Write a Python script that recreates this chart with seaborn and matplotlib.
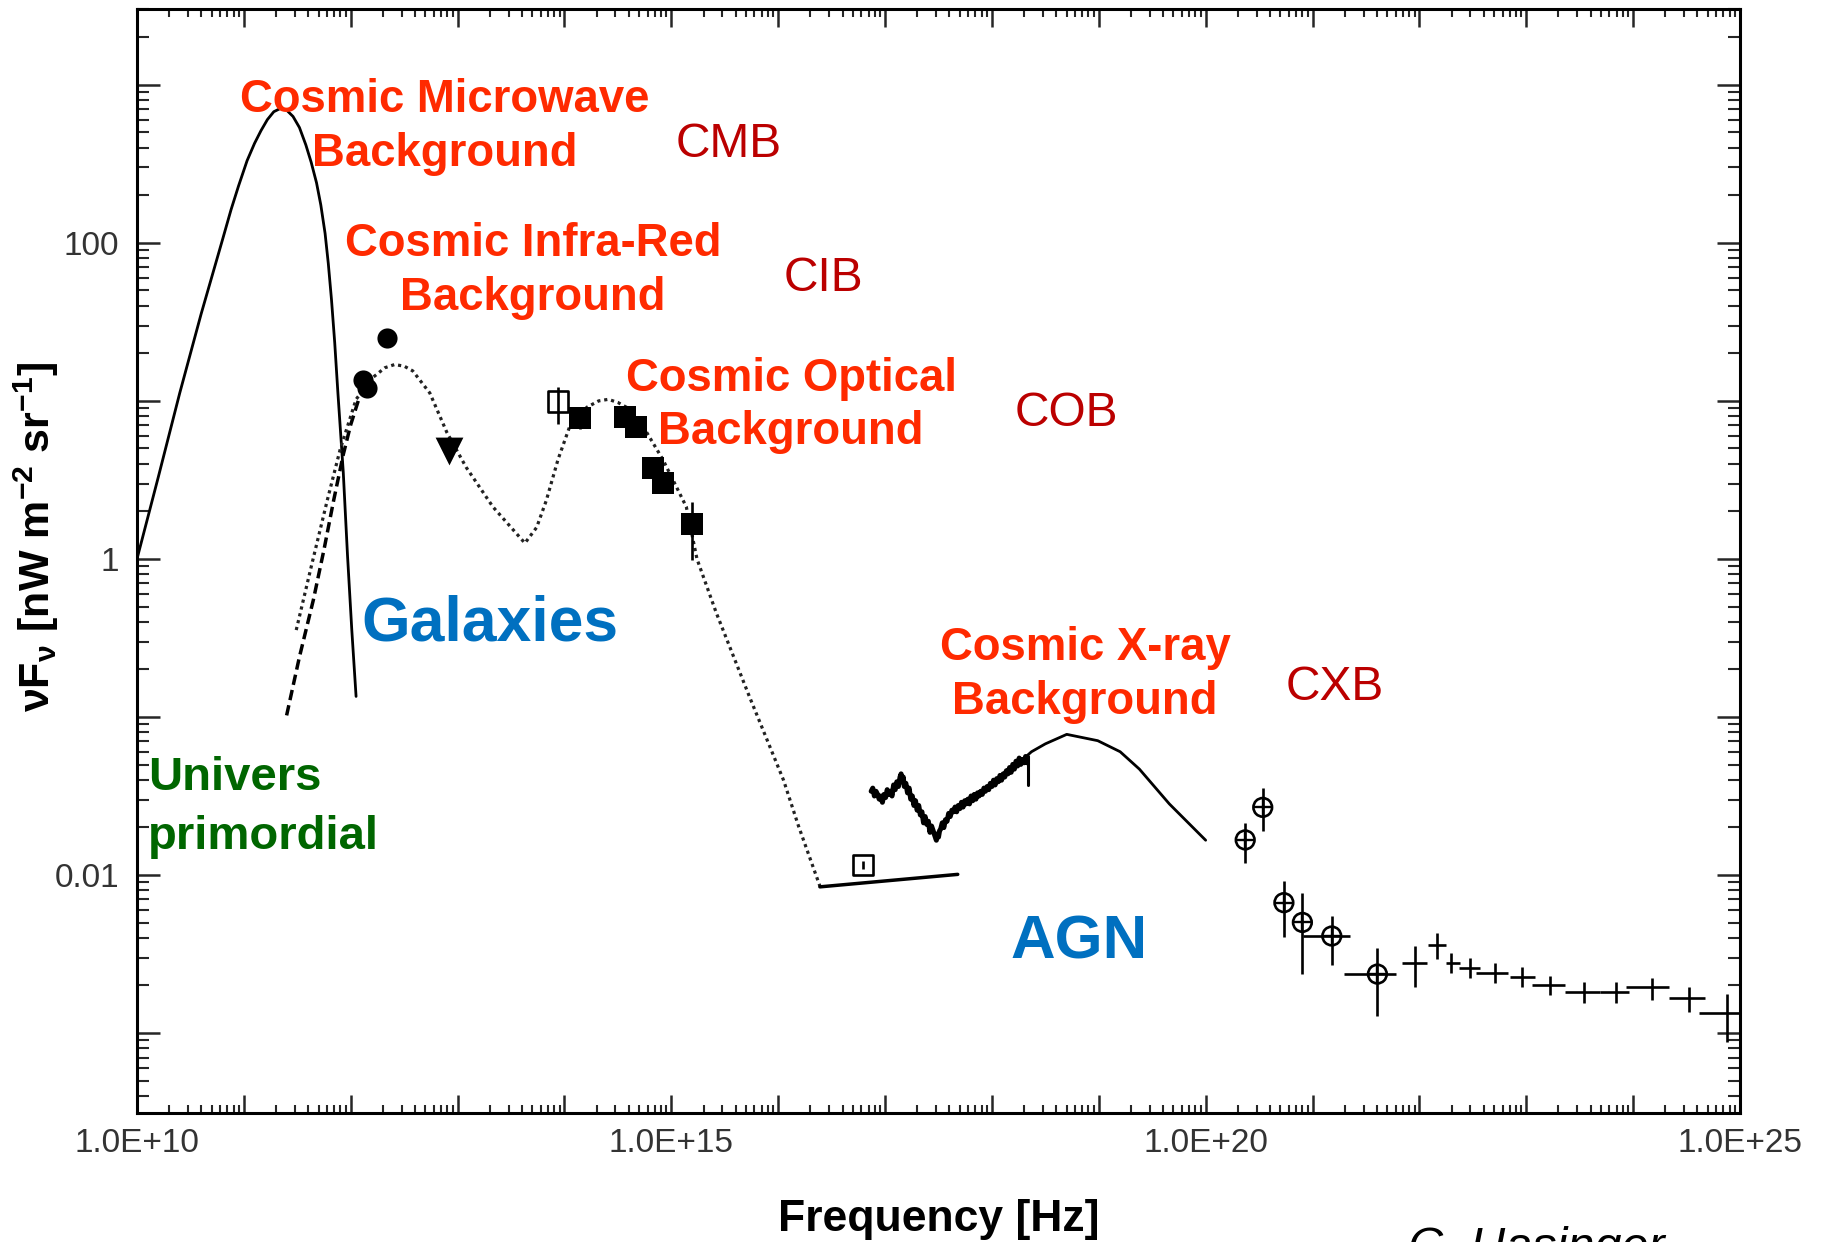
import numpy as np
import pandas as pd
import matplotlib
matplotlib.use("Agg")
import matplotlib.pyplot as plt
import seaborn as sns
from matplotlib.ticker import FixedLocator, FuncFormatter, LogLocator, NullFormatter

# ---------------- data : log10(nu / Hz) , log10(nuFnu / nW m^-2 sr^-1) ----------------
cmb_lognu = [10.00, 10.20, 10.40, 10.60, 10.80, 10.88, 10.95, 11.03, 11.10, 11.16,
             11.22, 11.28, 11.34, 11.40, 11.46, 11.52, 11.58, 11.63, 11.68, 11.72,
             11.76, 11.79, 11.82, 11.85, 11.88, 11.93, 11.97, 12.01, 12.05]
cmb_logflux = [0.00, 0.52, 1.05, 1.55, 2.02, 2.21, 2.36, 2.52, 2.63, 2.71,
               2.78, 2.83, 2.85, 2.84, 2.80, 2.73, 2.62, 2.51, 2.38, 2.24,
               2.06, 1.87, 1.64, 1.37, 1.05, 0.55, 0.02, -0.45, -0.87]

prim_lognu = [11.40, 11.52, 11.65, 11.75, 11.84, 11.93, 12.00, 12.07]
prim_logflux = [-0.99, -0.62, -0.26, 0.06, 0.37, 0.66, 0.85, 1.00]

gal_lognu = [11.49, 11.63, 11.78, 11.90, 12.05, 12.21, 12.32, 12.41, 12.50, 12.58,
             12.74, 12.90, 13.08, 13.33, 13.63, 13.74, 13.83, 13.94, 14.05, 14.21,
             14.32, 14.41, 14.50, 14.58, 14.77, 14.92, 15.14, 15.24, 15.42, 15.73,
             16.05, 16.19, 16.39]
gal_logflux = [-0.45, -0.05, 0.37, 0.69, 1.01, 1.15, 1.21, 1.23, 1.22, 1.19,
               1.05, 0.80, 0.58, 0.33, 0.10, 0.20, 0.37, 0.63, 0.84, 0.96,
               1.00, 1.01, 0.99, 0.96, 0.80, 0.63, 0.33, 0.00, -0.34, -0.87,
               -1.40, -1.69, -2.07]

uv_lognu = [16.39, 17.68]
uv_logflux = [-2.075, -1.996]

xray_lognu = [16.87, 16.885, 16.90, 16.915, 16.93, 16.945, 16.96, 16.975, 16.99, 17.005,
              17.02, 17.035, 17.05, 17.065, 17.08, 17.095, 17.11, 17.125, 17.14, 17.15,
              17.16, 17.17, 17.18, 17.195, 17.21, 17.225, 17.24, 17.255, 17.27, 17.285,
              17.30, 17.315, 17.33, 17.345, 17.36, 17.375, 17.39, 17.405, 17.42, 17.435,
              17.45, 17.465, 17.48, 17.49, 17.50, 17.51, 17.52, 17.535, 17.55, 17.565,
              17.58, 17.595, 17.61, 17.625, 17.64, 17.655, 17.67, 17.685, 17.70, 17.715,
              17.73, 17.745, 17.76, 17.775, 17.79, 17.805, 17.82, 17.835, 17.85, 17.865,
              17.88, 17.895, 17.91, 17.925, 17.94, 17.955, 17.97, 17.985, 18.00, 18.015,
              18.03, 18.045, 18.06, 18.075, 18.09, 18.105, 18.12, 18.135, 18.15, 18.165,
              18.18, 18.195, 18.21, 18.225, 18.24, 18.255, 18.27, 18.285, 18.30, 18.315, 18.33]
xray_logflux = [-1.47, -1.45, -1.50, -1.47, -1.49, -1.52, -1.50, -1.54, -1.49, -1.51,
                -1.46, -1.49, -1.47, -1.50, -1.43, -1.46, -1.41, -1.44, -1.38, -1.36,
                -1.41, -1.38, -1.44, -1.42, -1.48, -1.45, -1.52, -1.50, -1.56, -1.53,
                -1.59, -1.56, -1.62, -1.60, -1.67, -1.63, -1.68, -1.66, -1.73, -1.69,
                -1.72, -1.75, -1.78, -1.74, -1.76, -1.72, -1.71, -1.67, -1.70, -1.65,
                -1.66, -1.61, -1.63, -1.59, -1.60, -1.57, -1.60, -1.56, -1.58, -1.54,
                -1.57, -1.53, -1.55, -1.52, -1.55, -1.50, -1.53, -1.49, -1.52, -1.48,
                -1.50, -1.47, -1.49, -1.45, -1.47, -1.44, -1.46, -1.42, -1.44, -1.40,
                -1.43, -1.39, -1.41, -1.37, -1.40, -1.36, -1.38, -1.34, -1.36, -1.32,
                -1.35, -1.30, -1.33, -1.28, -1.31, -1.26, -1.30, -1.27, -1.29, -1.25, -1.29]
xray_end_lognu = [18.34, 18.34]
xray_end_logflux = [-1.25, -1.43]

cxb_lognu = [18.32, 18.37, 18.50, 18.70, 18.99, 19.20, 19.38, 19.66, 20.00]
cxb_logflux = [-1.25, -1.22, -1.17, -1.11, -1.15, -1.22, -1.33, -1.55, -1.78]

cib_dot_lognu = [12.117, 12.155, 12.342]
cib_dot_logflux = [1.133, 1.080, 1.397]

cib_tri_lognu = [12.92]
cib_tri_logflux = [0.68]

open_sq_lognu = [13.94, 16.79]
open_sq_logflux = [0.996, -1.937]
open_sq_lo = [0.854, -1.965]
open_sq_hi = [1.09, -1.91]

cob_lognu = [14.15, 14.565, 14.674, 14.824, 14.923, 15.189]
cob_logflux = [0.89, 0.90, 0.837, 0.574, 0.479, 0.222]
cob_lo = [0.82, 0.90, 0.837, 0.574, 0.479, -0.006]
cob_hi = [0.95, 0.90, 0.837, 0.574, 0.479, 0.363]

gam_lognu = [20.37, 20.534, 20.732, 20.905, 21.18, 21.607]
gam_logflux = [-1.778, -1.572, -2.175, -2.30, -2.386, -2.627]
gam_ylo = [-1.927, -1.72, -2.39, -2.627, -2.57, -2.89]
gam_yhi = [-1.673, -1.451, -2.036, -2.116, -2.26, -2.46]
gam_xlo = [20.37, 20.534, 20.732, 20.905, 20.91, 21.29]
gam_xhi = [20.37, 20.534, 20.732, 20.905, 21.35, 21.78]

egret_lognu = [21.962, 22.169, 22.30, 22.47, 22.71, 22.96, 23.225, 23.536, 23.84, 24.176, 24.52, 24.88]
egret_logflux = [-2.555, -2.443, -2.555, -2.59, -2.618, -2.648, -2.696, -2.739, -2.739, -2.711, -2.78, -2.875]
egret_xlo = [21.84, 22.08, 22.25, 22.37, 22.53, 22.85, 23.05, 23.36, 23.69, 23.93, 24.34, 24.62]
egret_xhi = [22.07, 22.25, 22.38, 22.57, 22.83, 23.08, 23.36, 23.69, 23.96, 24.34, 24.67, 25.0]
egret_ylo = [-2.71, -2.534, -2.618, -2.654, -2.686, -2.711, -2.76, -2.808, -2.808, -2.79, -2.87, -3.055]
egret_yhi = [-2.45, -2.365, -2.496, -2.527, -2.555, -2.584, -2.639, -2.675, -2.675, -2.654, -2.707, -2.75]

xtick_exps = list(range(10, 26))
xlabel_exps = [10, 15, 20, 25]
xtick_labels = ["1.0E+10", "1.0E+15", "1.0E+20", "1.0E+25"]
ytick_exps = list(range(-3, 4))
ylabel_vals = [100, 1, 0.01]
ytick_labels = ["100", "1", "0.01"]

# ---------------- style ----------------
sns.set_style("ticks")
plt.rcParams["font.family"] = ["Liberation Sans", "DejaVu Sans"]
plt.rcParams["mathtext.fontset"] = "custom"
plt.rcParams["mathtext.rm"] = "Liberation Sans"
plt.rcParams["mathtext.bf"] = "Liberation Sans:bold"
plt.rcParams["mathtext.it"] = "Liberation Sans:italic"

W, H = 1830, 1242
fig = plt.figure(figsize=(W / 100, H / 100), dpi=100)
ax = fig.add_axes([137 / W, 1 - 1113 / H, (1740 - 137) / W, (1113 - 9) / H])
ax.set_xscale("log")
ax.set_yscale("log")


def p(a):
    return 10.0 ** np.asarray(a, dtype=float)


K = "black"
sns.lineplot(x=p(cmb_lognu), y=p(cmb_logflux), ax=ax, color=K, lw=2.0,
             sort=False, estimator=None)
sns.lineplot(x=p(prim_lognu), y=p(prim_logflux), ax=ax, color=K, lw=2.5,
             linestyle=(0, (3.0, 1.5)), sort=False, estimator=None)
sns.lineplot(x=p(gal_lognu), y=p(gal_logflux), ax=ax, color="#222222", lw=2.3,
             linestyle=(0, (1.0, 1.2)), sort=False, estimator=None)
sns.lineplot(x=p(uv_lognu), y=p(uv_logflux), ax=ax, color=K, lw=2.5,
             sort=False, estimator=None)
sns.lineplot(x=p(xray_lognu), y=p(xray_logflux), ax=ax, color=K, lw=3.6,
             sort=False, estimator=None)
sns.lineplot(x=p(xray_end_lognu), y=p(xray_end_logflux), ax=ax, color=K, lw=2.2,
             sort=False, estimator=None)
sns.lineplot(x=p(cxb_lognu), y=p(cxb_logflux), ax=ax, color=K, lw=2.0,
             sort=False, estimator=None)

# markers
sns.scatterplot(x=p(cib_dot_lognu), y=p(cib_dot_logflux), ax=ax, marker="o",
                s=210, color=K, linewidth=0, zorder=4)
sns.scatterplot(x=p(cib_tri_lognu), y=p(cib_tri_logflux), ax=ax, marker="v",
                s=400, color=K, linewidth=0, zorder=4)

# COB filled squares with error bars
cy = p(cob_logflux)
ax.errorbar(p(cob_lognu), cy, yerr=[cy - p(cob_lo), p(cob_hi) - cy], fmt="none",
            ecolor=K, elinewidth=1.9, capsize=0, zorder=3)
sns.scatterplot(x=p(cob_lognu), y=cy, ax=ax, marker="s", s=260, color=K,
                linewidth=0, zorder=4)

# open squares
oy = p(open_sq_logflux)
ax.errorbar(p(open_sq_lognu), oy, yerr=[oy - p(open_sq_lo), p(open_sq_hi) - oy],
            fmt="none", ecolor=K, elinewidth=1.9, capsize=0, zorder=3)
sns.scatterplot(x=p(open_sq_lognu), y=oy, ax=ax, marker="s", s=210, color=K, zorder=4)
coll = ax.collections[-1]
coll.set_facecolor("none")
coll.set_edgecolor(K)
coll.set_linewidth(1.9)

# gamma-ray circled points
gx, gy = p(gam_lognu), p(gam_logflux)
ax.errorbar(gx, gy, yerr=[gy - p(gam_ylo), p(gam_yhi) - gy],
            xerr=[gx - p(gam_xlo), p(gam_xhi) - gx], fmt="none", ecolor=K,
            elinewidth=1.9, capsize=0, zorder=3)
sns.scatterplot(x=gx, y=gy, ax=ax, marker="o", s=180, color=K, zorder=4)
coll = ax.collections[-1]
coll.set_facecolor("none")
coll.set_edgecolor(K)
coll.set_linewidth(1.9)
sns.scatterplot(x=gx, y=gy, ax=ax, marker="+", s=180, color=K, linewidth=1.7, zorder=4)

# EGRET crosses
ex, ey = p(egret_lognu), p(egret_logflux)
ax.errorbar(ex, ey, yerr=[ey - p(egret_ylo), p(egret_yhi) - ey],
            xerr=[ex - p(egret_xlo), p(egret_xhi) - ex], fmt="none", ecolor=K,
            elinewidth=1.9, capsize=0, zorder=3)

# ---------------- axes ----------------
ax.set_xlim(1e10, 1e25)
ax.set_ylim(10 ** -3.506, 10 ** 3.48)

xlab = dict(zip(xlabel_exps, xtick_labels))
ax.xaxis.set_major_locator(FixedLocator([10.0 ** k for k in xtick_exps]))
ax.xaxis.set_major_formatter(FuncFormatter(lambda v, pos: xlab.get(int(round(np.log10(v))), "")))
ax.xaxis.set_minor_locator(LogLocator(base=10, subs=np.arange(2, 10), numticks=100))
ax.xaxis.set_minor_formatter(NullFormatter())

ylab = {int(round(np.log10(v))): s for v, s in zip(ylabel_vals, ytick_labels)}
ax.yaxis.set_major_locator(FixedLocator([10.0 ** k for k in ytick_exps]))
ax.yaxis.set_major_formatter(FuncFormatter(lambda v, pos: ylab.get(int(round(np.log10(v))), "")))
ax.yaxis.set_minor_locator(LogLocator(base=10, subs=np.arange(2, 10), numticks=100))
ax.yaxis.set_minor_formatter(NullFormatter())

ax.tick_params(axis="x", which="major", direction="in", length=13, width=1.8,
               top=True, bottom=True, pad=11, labelsize=24, labelcolor="#333333")
ax.tick_params(axis="x", which="minor", direction="in", length=5.5, width=1.5,
               top=True, bottom=True)
ax.tick_params(axis="y", which="major", direction="in", length=16.5, width=1.8,
               left=True, right=True, pad=13, labelsize=24, labelcolor="#333333")
ax.tick_params(axis="y", which="minor", direction="in", length=8.5, width=1.5,
               left=True, right=True)
for sp in ax.spines.values():
    sp.set_linewidth(2.2)
    sp.set_color(K)

ax.set_xlabel("Frequency [Hz]", fontsize=32, fontweight="bold", color=K)
ax.xaxis.label.set_va("baseline")
ax.xaxis.set_label_coords(0.5, (1113 - 1231) / (1113 - 9))
ax.set_ylabel(r"νF$_{\mathbf{ν}}$ [nW m$^{\mathbf{-2}}$ sr$^{\mathbf{-1}}$]",
              fontsize=31, fontweight="bold", color=K)
ax.yaxis.set_label_coords((61 - 137) / (1740 - 137), (1113 - 537) / (1113 - 9))

# ---------------- annotations ----------------
RED, DRED, BLUE, GREEN = "#ff2a00", "#bb0000", "#0070c0", "#006600"


def ftext(x, y, s, **kw):
    fig.text(x / W, 1 - y / H, s, va="baseline", **kw)


red_lines = [("Cosmic Microwave", 445, 112), ("Background", 445, 166.5),
             ("Cosmic Infra-Red", 533, 255.5), ("Background", 533, 310),
             ("Cosmic Optical", 791, 390.5), ("Background", 791, 443.5),
             ("Cosmic X-ray", 1085, 659.5), ("Background", 1085, 714)]
for s, x, y in red_lines:
    ftext(x, y, s, ha="center", fontsize=32.8, fontweight="bold", color=RED)

for s, x, y in [("CMB", 729, 157), ("CIB", 823, 291), ("COB", 1066, 426.5), ("CXB", 1335, 700)]:
    ftext(x, y, s, ha="center", fontsize=34.5, color=DRED)

ftext(490, 640.5, "Galaxies", ha="center", fontsize=45, fontweight="bold", color=BLUE)
ftext(1079, 958.3, "AGN", ha="center", fontsize=44.5, fontweight="bold", color=BLUE)
ftext(148, 790.5, "Univers", ha="left", fontsize=34, fontweight="bold", color=GREEN)
ftext(148, 849, "primordial", ha="left", fontsize=34, fontweight="bold", color=GREEN)
ftext(1408, 1261, "C. Hasinger", ha="left", fontsize=35, style="italic", color=K)

fig.savefig("out.png", dpi=100, facecolor="white")
